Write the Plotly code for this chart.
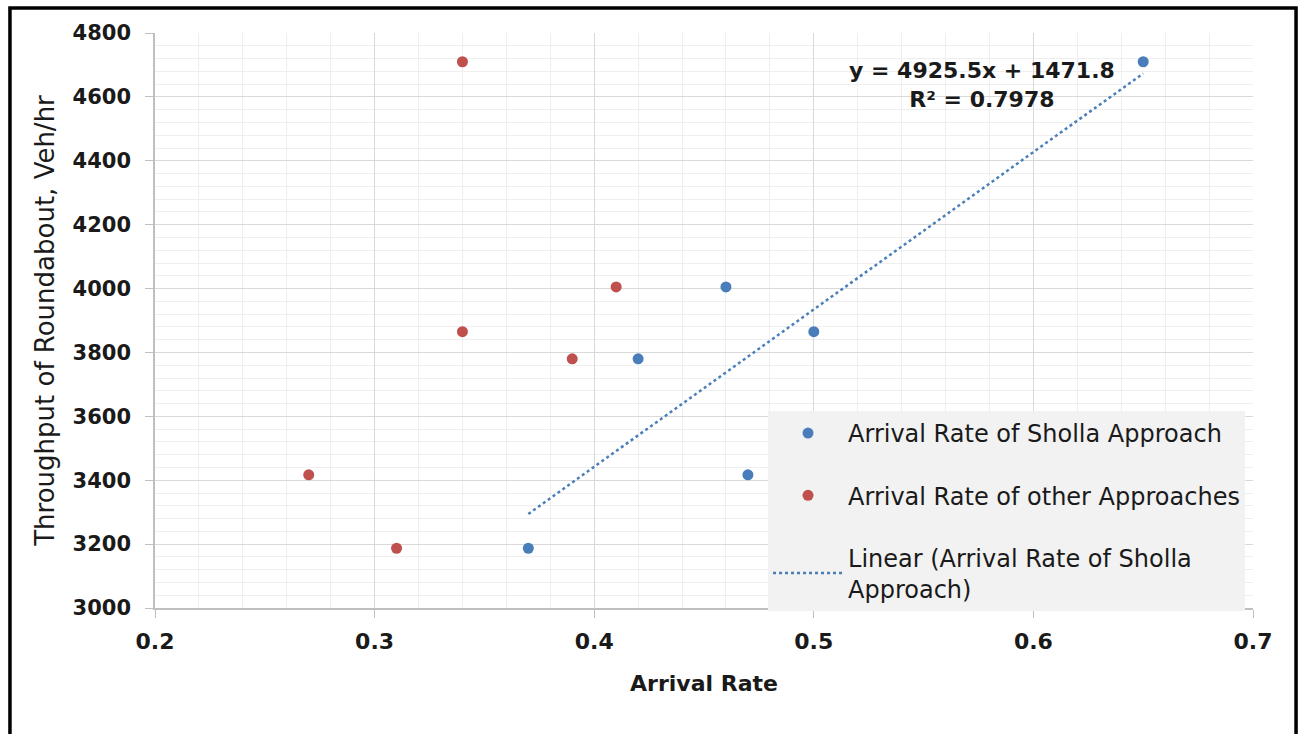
import plotly.graph_objects as go

# Arrival rate vs. roundabout throughput
sholla_rate = [0.37, 0.42, 0.46, 0.47, 0.50, 0.65]
sholla_throughput = [3187, 3780, 4005, 3417, 3865, 4710]

other_rate = [0.27, 0.31, 0.34, 0.34, 0.39, 0.41]
other_throughput = [3417, 3187, 3865, 4710, 3780, 4005]

# Linear trend fitted to the Sholla approach
slope = 4925.5
intercept = 1471.8
r_squared = 0.7978
trend_x = [min(sholla_rate), max(sholla_rate)]
trend_y = [slope * x + intercept for x in trend_x]

x_ticks = [0.2, 0.3, 0.4, 0.5, 0.6, 0.7]
y_ticks = [3000, 3200, 3400, 3600, 3800, 4000, 4200, 4400, 4600, 4800]

BLUE = "#4a7ebb"
RED = "#c0504d"
FONT = "DejaVu Sans"
TEXT = "#1a1a1a"

fig = go.Figure()

fig.add_trace(go.Scatter(
    x=sholla_rate, y=sholla_throughput, mode="markers",
    name="Arrival Rate of Sholla Approach", legendgroup="a",
    marker=dict(color=BLUE, size=11),
))
fig.add_trace(go.Scatter(
    x=other_rate, y=other_throughput, mode="markers",
    name="Arrival Rate of other Approaches", legendgroup="b",
    marker=dict(color=RED, size=11),
))
fig.add_trace(go.Scatter(
    x=trend_x, y=trend_y, mode="lines",
    name="Linear (Arrival Rate of Sholla<br>Approach)", legendgroup="c",
    line=dict(color=BLUE, width=2.5, dash="dot"),
))

fig.add_annotation(
    x=0.5765, y=4636, xref="x", yref="y",
    text=f"y = {slope}x + {intercept}<br>R² = {r_squared}",
    showarrow=False, align="center",
    font=dict(family=FONT, size=22, color=TEXT, weight="bold"),
)

# Outer frame around the whole chart
fig.add_shape(
    type="rect", xref="paper", yref="paper",
    x0=-0.1321, x1=1.0392, y0=-0.24, y1=1.0435,
    line=dict(color="black", width=3.5), layer="above",
)

fig.update_xaxes(
    range=[0.2, 0.7], tickvals=x_ticks, ticktext=[str(v) for v in x_ticks],
    showgrid=True, gridcolor="#d9d9d9", gridwidth=1,
    minor=dict(dtick=0.02, showgrid=True, gridcolor="#efefef", gridwidth=1),
    showline=True, linecolor="#bfbfbf", linewidth=1.5,
    ticks="outside", ticklen=8, tickcolor="#bfbfbf",
    ticklabelstandoff=5,
    zeroline=False,
    tickfont=dict(family=FONT, size=22, color=TEXT, weight="bold"),
    title=dict(text="Arrival Rate", standoff=22,
               font=dict(family=FONT, size=22, color=TEXT, weight="bold")),
)
fig.update_yaxes(
    range=[3000, 4800], tickvals=y_ticks,
    showgrid=True, gridcolor="#d9d9d9", gridwidth=1,
    minor=dict(dtick=40, showgrid=True, gridcolor="#efefef", gridwidth=1),
    showline=True, linecolor="#bfbfbf", linewidth=1.5,
    ticks="outside", ticklen=8, tickcolor="#bfbfbf",
    ticklabelstandoff=10,
    zeroline=False,
    tickfont=dict(family=FONT, size=21, color=TEXT, weight="bold"),
    title=dict(text="Throughput of Roundabout, Veh/hr", standoff=10,
               font=dict(family=FONT, size=26, color=TEXT)),
)

fig.update_layout(
    width=1300, height=734,
    margin=dict(l=155, r=47, t=33, b=126),
    paper_bgcolor="white", plot_bgcolor="white",
    legend=dict(
        x=0.5583, y=0.3426, xanchor="left", yanchor="top",
        bgcolor="#f2f2f2", borderwidth=0,
        font=dict(family=FONT, size=24, color=TEXT),
        tracegroupgap=28, itemwidth=70,
    ),
)

fig.write_html("out.html")
